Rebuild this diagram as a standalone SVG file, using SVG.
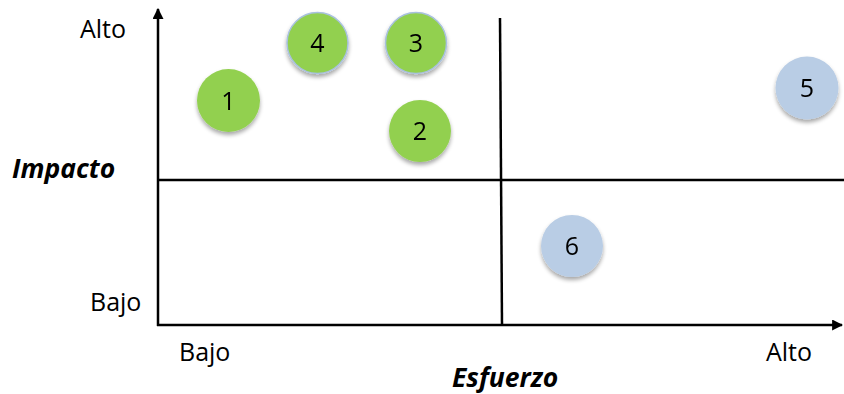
<svg xmlns="http://www.w3.org/2000/svg" width="844" height="394" viewBox="0 0 844 394">
<defs>
<style>
.ax{stroke:#000;stroke-width:2.5;fill:none}
.lbl{font-family:"Open Sans","Liberation Sans",sans-serif;font-size:25px;fill:#000}
.ttl{font-family:"Open Sans","Liberation Sans",sans-serif;font-size:26.5px;font-weight:bold;font-style:italic;fill:#000}
.num{font-family:"Open Sans","Liberation Sans",sans-serif;font-size:25px;fill:#000;text-anchor:middle}
.g{fill:#92D050}
.b{fill:#B9CDE5}
.ol{stroke:#A9C1DE;stroke-width:1.5}
</style>
<marker id="arr" viewBox="0 0 10 10" refX="9" refY="5" markerWidth="4.4" markerHeight="4.4" orient="auto" markerUnits="strokeWidth">
<path d="M0,0 L10,5 L0,10 z" fill="#000"/>
</marker>
<filter id="sh" x="-30%" y="-30%" width="160%" height="170%">
<feGaussianBlur in="SourceAlpha" stdDeviation="2"/>
<feOffset dy="3" result="o"/>
<feComponentTransfer><feFuncA type="linear" slope="0.35"/></feComponentTransfer>
<feMerge><feMergeNode/><feMergeNode in="SourceGraphic"/></feMerge>
</filter>
</defs>
<rect width="844" height="394" fill="#fff"/>
<g id="connectors">
<line class="ax" x1="158" y1="326" x2="158" y2="9" marker-end="url(#arr)"/>
<line class="ax" x1="157" y1="325" x2="842" y2="325" marker-end="url(#arr)"/>
<line class="ax" x1="158" y1="180" x2="844" y2="180"/>
<line class="ax" x1="500" y1="18" x2="502" y2="325"/>
</g>
<g id="labels">
<text class="lbl" x="80" y="38">Alto</text>
<text class="lbl" x="90" y="311">Bajo</text>
<text class="lbl" x="179" y="361">Bajo</text>
<text class="lbl" x="766" y="361">Alto</text>
<text class="ttl" x="12" y="178">Impacto</text>
<text class="ttl" x="452" y="387">Esfuerzo</text>
</g>
<g id="n1" filter="url(#sh)"><circle class="g" cx="228.5" cy="100.5" r="31.5"/><text class="num" x="228.5" y="109.5">1</text></g>
<g id="n2" filter="url(#sh)"><circle class="g" cx="420" cy="131" r="31"/><text class="num" x="420" y="140">2</text></g>
<g id="n3" filter="url(#sh)"><circle class="g ol" cx="416" cy="43" r="30.5"/><text class="num" x="416" y="52">3</text></g>
<g id="n4" filter="url(#sh)"><circle class="g ol" cx="317.5" cy="43" r="30.5"/><text class="num" x="317.5" y="52">4</text></g>
<g id="n5" filter="url(#sh)"><circle class="b" cx="807" cy="88" r="31.5"/><text class="num" x="807" y="97">5</text></g>
<g id="n6" filter="url(#sh)"><circle class="b" cx="572" cy="246" r="31"/><text class="num" x="572" y="255">6</text></g>
</svg>
